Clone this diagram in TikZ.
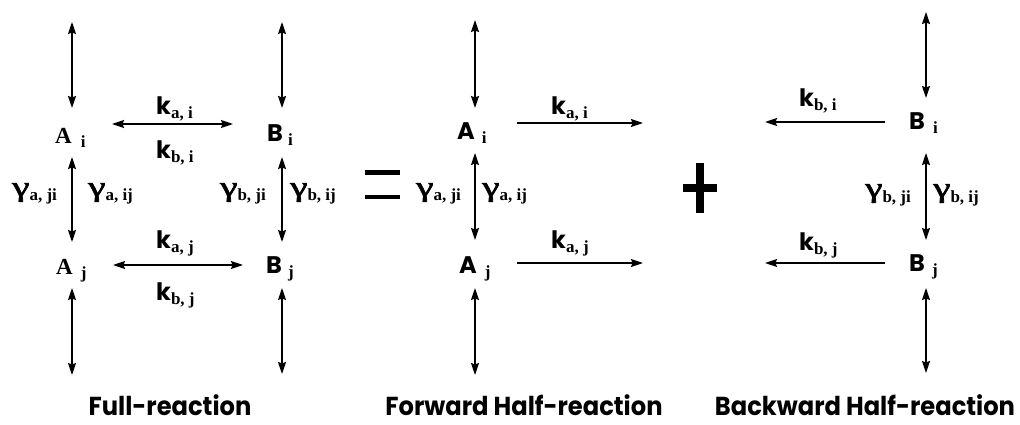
\documentclass[tikz,border=0pt]{standalone}
\usepackage{fontspec}
\usepackage{graphicx}
\setmainfont{Liberation Serif}
\newfontfamily\geo{Poppins}
\newfontfamily\geot{Poppins}[FakeStretch=0.93]
\newfontfamily\gfont{Liberation Serif}[FakeBold=2]
\usetikzlibrary{arrows.meta}
\newcommand\sbs[1]{\raisebox{-4pt}{\fontsize{17}{17}\selectfont\bfseries #1}}
\newcommand\gsb[1]{\raisebox{-5pt}{\fontsize{17}{17}\selectfont\bfseries #1}}
\newcommand\geoL[1]{{\geo\bfseries\fontsize{24}{24}\selectfont #1}}
\newcommand\serA[1]{{\bfseries\fontsize{23}{23}\selectfont #1}}
\newcommand\gam{\scalebox{1.4}[1]{\gfont\fontsize{28}{28}\selectfont γ}}
\tikzset{
  tip/.tip={Stealth[length=12pt,width=8pt,inset=1.5pt]},
  arr/.style={line width=1.5pt,-tip},
  arrboth/.style={line width=1.5pt,tip-tip},
  lab/.style={inner sep=0pt,anchor=base west},
  title/.style={inner sep=0pt,anchor=base,font=\geot\bfseries\fontsize{26}{26}\selectfont},
  sym/.style={fill=black},
}
\begin{document}
\begin{tikzpicture}[x=1pt,y=-1pt]
\useasboundingbox (0,0) rectangle (1020,425);

% ---------------- Full reaction ----------------
\node[lab] (Ai1) at (55,143) {\serA{A}\hspace{9pt}\sbs{i}};
\node[lab] (Aj1) at (56,274) {\serA{A}\hspace{8pt}\sbs{j}};
\node[lab] (Bi1) at (267,142) {\geoL{B}\hspace{5pt}\sbs{i}};
\node[lab] (Bj1) at (266,273) {\geoL{B}\hspace{6pt}\sbs{j}};
\node[lab] (kai1) at (156,115) {\geoL{k}\sbs{a, i}};
\node[lab] (kbi1) at (156,158) {\geoL{k}\sbs{b, i}};
\node[lab] (kaj1) at (156,248) {\geoL{k}\sbs{a, j}};
\node[lab] (kbj1) at (156,300) {\geoL{k}\sbs{b, j}};
\node[lab] (gaji1) at (12,196) {\gam\gsb{a, ji}};
\node[lab] (gaij1) at (88,196) {\gam\gsb{a, ij}};
\node[lab] (gbji1) at (220,196) {\gam\gsb{b, ji}};
\node[lab] (gbij1) at (290,196) {\gam\gsb{b, ij}};
\node[title] (full) at (170,415) {Full-reaction};

\coordinate (a1t0) at (72,22);  \coordinate (a1t1) at (72,108);
\coordinate (a1m0) at (72,157); \coordinate (a1m1) at (72,242);
\coordinate (a1b0) at (72,288); \coordinate (a1b1) at (72,375);
\coordinate (b1t0) at (282,22);  \coordinate (b1t1) at (282,108);
\coordinate (b1m0) at (282,157); \coordinate (b1m1) at (282,242);
\coordinate (b1b0) at (282,288); \coordinate (b1b1) at (282,374);
\coordinate (h1i0) at (112,124); \coordinate (h1i1) at (233,124);
\coordinate (h1j0) at (113,265); \coordinate (h1j1) at (243,265);
\draw[arrboth] (a1t0) -- (a1t1);
\draw[arrboth] (a1m0) -- (a1m1);
\draw[arrboth] (a1b0) -- (a1b1);
\draw[arrboth] (b1t0) -- (b1t1);
\draw[arrboth] (b1m0) -- (b1m1);
\draw[arrboth] (b1b0) -- (b1b1);
\draw[arrboth] (h1i0) -- (h1i1);
\draw[arrboth] (h1j0) -- (h1j1);

% equals sign
\fill[sym] (365,170) rectangle (400,174.5);
\fill[sym] (365,194.5) rectangle (400,199);

% ---------------- Forward half reaction ----------------
\node[lab] (Ai2) at (457,140) {\geoL{A}\hspace{7pt}\sbs{i}};
\node[lab] (Aj2) at (459,273) {\geoL{A}\hspace{8pt}\sbs{j}};
\node[lab] (kai2) at (551,115) {\geoL{k}\sbs{a, i}};
\node[lab] (kaj2) at (551,248) {\geoL{k}\sbs{a, j}};
\node[lab] (gaji2) at (416,196) {\gam\gsb{a, ji}};
\node[lab] (gaij2) at (482,196) {\gam\gsb{a, ij}};
\node[title] (fwd) at (524,415) {Forward Half-reaction};

\coordinate (a2t0) at (475,20);  \coordinate (a2t1) at (475,108);
\coordinate (a2m0) at (475,153); \coordinate (a2m1) at (475,240);
\coordinate (a2b0) at (475,288); \coordinate (a2b1) at (475,375);
\coordinate (h2i0) at (517,123); \coordinate (h2i1) at (643,123);
\coordinate (h2j0) at (517,263); \coordinate (h2j1) at (643,263);
\draw[arrboth] (a2t0) -- (a2t1);
\draw[arrboth] (a2m0) -- (a2m1);
\draw[arrboth] (a2b0) -- (a2b1);
\draw[arr] (h2i0) -- (h2i1);
\draw[arr] (h2j0) -- (h2j1);

% plus sign
\fill[sym] (696,163) rectangle (704,213);
\fill[sym] (683,183.5) rectangle (717,191.5);

% ---------------- Backward half reaction ----------------
\node[lab] (Bi3) at (909,130) {\geoL{B}\hspace{8pt}\sbs{i}};
\node[lab] (Bj3) at (909,271) {\geoL{B}\hspace{7pt}\sbs{j}};
\node[lab] (kbi3) at (799,107) {\geoL{k}\sbs{b, i}};
\node[lab] (kbj3) at (799,250) {\geoL{k}\sbs{b, j}};
\node[lab] (gbji3) at (865,197) {\gam\gsb{b, ji}};
\node[lab] (gbij3) at (933,197) {\gam\gsb{b, ij}};
\node[title] (bwd) at (865,415) {Backward Half-reaction};

\coordinate (b3t0) at (926,12);  \coordinate (b3t1) at (926,98);
\coordinate (b3m0) at (926,153); \coordinate (b3m1) at (926,240);
\coordinate (b3b0) at (926,288); \coordinate (b3b1) at (926,373);
\coordinate (h3i0) at (885,122); \coordinate (h3i1) at (765,122);
\coordinate (h3j0) at (885,263); \coordinate (h3j1) at (765,263);
\draw[arrboth] (b3t0) -- (b3t1);
\draw[arrboth] (b3m0) -- (b3m1);
\draw[arrboth] (b3b0) -- (b3b1);
\draw[arr] (h3i0) -- (h3i1);
\draw[arr] (h3j0) -- (h3j1);
\end{tikzpicture}
\end{document}
